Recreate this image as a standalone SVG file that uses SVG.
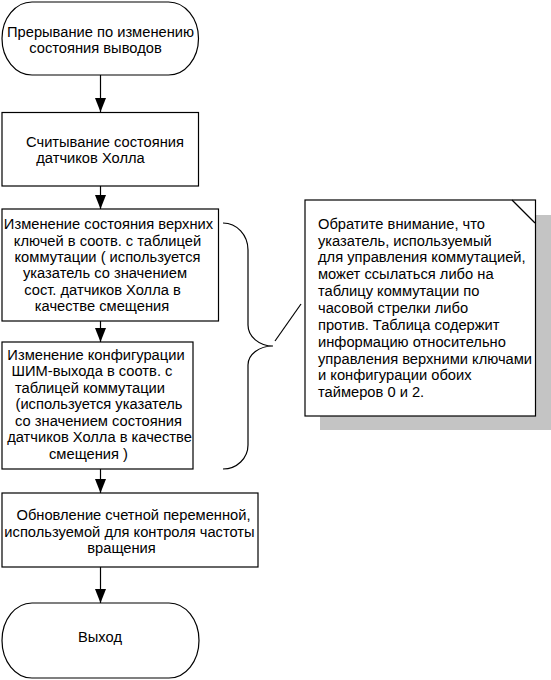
<svg xmlns="http://www.w3.org/2000/svg" width="551" height="680" viewBox="0 0 551 680">
<style>
.s{fill:#fff;stroke:#000;stroke-width:1.2}
.t{font-family:"Liberation Sans",Arial,sans-serif;font-size:14.7px;fill:#000}
.m{text-anchor:middle}
.c{fill:none;stroke:#000;stroke-width:1.2}
.a{fill:#000}
</style>
<rect width="551" height="680" fill="#fff"/>
<g id="connectors">
<line class="c" x1="100.5" y1="75" x2="100.5" y2="112"/>
<path class="a" d="M95,98 L106,98 L100.5,112 Z"/>
<line class="c" x1="100.5" y1="186" x2="100.5" y2="209"/>
<path class="a" d="M95,195 L106,195 L100.5,209 Z"/>
<line class="c" x1="100.5" y1="321" x2="100.5" y2="342"/>
<path class="a" d="M95,328 L106,328 L100.5,342 Z"/>
<line class="c" x1="100.5" y1="469" x2="100.5" y2="493"/>
<path class="a" d="M95,479 L106,479 L100.5,493 Z"/>
<line class="c" x1="100.5" y1="567" x2="100.5" y2="603"/>
<path class="a" d="M95,589 L106,589 L100.5,603 Z"/>
<path class="c" d="M223,223 A25,27 0 0 1 248,250 L248,325 A25,21 0 0 0 273,346 A25,19 0 0 0 248,365 L248,445 A25,24 0 0 1 223,469"/>
<line class="c" x1="275" y1="341" x2="301" y2="304"/>
</g>
<g id="start">
<rect class="s" x="2" y="2" width="196.5" height="73" rx="30" ry="36.5"/>
<text class="t m" x="100.5" y="37">Прерывание по изменению</text>
<text class="t m" x="95.5" y="53">состояния выводов</text>
</g>
<g id="read">
<rect class="s" x="2" y="112.5" width="196.5" height="73.5"/>
<text class="t m" x="105" y="147">Считывание состояния</text>
<text class="t m" x="90.5" y="163">датчиков Холла</text>
</g>
<g id="keys">
<rect class="s" x="2" y="209" width="216.5" height="112"/>
<text class="t m" x="108.5" y="229">Изменение состояния верхних</text>
<text class="t m" x="107.5" y="246">ключей в соотв. с таблицей</text>
<text class="t m" x="107.5" y="262">коммутации (  используется</text>
<text class="t m" x="105" y="278">указатель со значением</text>
<text class="t m" x="102.5" y="295">сост. датчиков Холла в</text>
<text class="t m" x="102" y="311">качестве смещения</text>
</g>
<g id="pwm">
<rect class="s" x="2" y="342" width="191" height="127"/>
<text class="t m" x="96" y="360">Изменение конфигурации</text>
<text class="t m" x="92" y="376">ШИМ-выхода в соотв. с</text>
<text class="t m" x="90" y="393">таблицей коммутации</text>
<text class="t m" x="99" y="409">(используется указатель</text>
<text class="t m" x="98.5" y="426">со значением состояния</text>
<text class="t m" x="99.5" y="442">датчиков Холла в качестве</text>
<text class="t m" x="88.5" y="459">смещения )</text>
</g>
<g id="counter">
<rect class="s" x="2" y="493" width="256" height="74"/>
<text class="t m" x="133.5" y="520">Обновление счетной переменной,</text>
<text class="t m" x="129.5" y="537">используемой для контроля частоты</text>
<text class="t m" x="121.5" y="553">вращения</text>
</g>
<g id="exit">
<rect class="s" x="2" y="603" width="197" height="75" rx="30" ry="37.5"/>
<text class="t m" x="100" y="642">Выход</text>
</g>
<g id="note">
<rect x="320" y="215" width="231" height="215" fill="#c4c4c4"/>
<rect class="s" x="305" y="200" width="230.5" height="216"/>
<line class="c" x1="512" y1="200" x2="535" y2="223"/>
<text class="t" x="318" y="229">Обратите внимание, что</text>
<text class="t" x="318" y="246">указатель, используемый</text>
<text class="t" x="318" y="262">для управления коммутацией,</text>
<text class="t" x="318" y="279">может ссылаться либо на</text>
<text class="t" x="318" y="296">таблицу коммутации по</text>
<text class="t" x="318" y="313">часовой стрелки либо</text>
<text class="t" x="318" y="330">против. Таблица содержит</text>
<text class="t" x="318" y="347">информацию относительно</text>
<text class="t" x="318" y="364">управления верхними ключами</text>
<text class="t" x="318" y="380">и конфигурации обоих</text>
<text class="t" x="318" y="397">таймеров 0 и 2.</text>
</g>
</svg>
